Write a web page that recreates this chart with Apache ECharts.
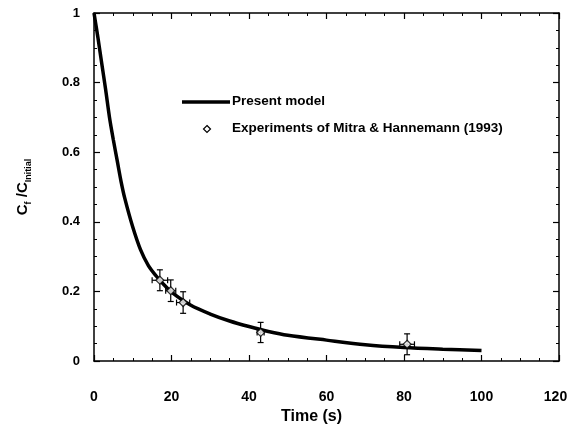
<!DOCTYPE html>
<html>
<head>
<meta charset="utf-8">
<script src="https://cdn.jsdelivr.net/npm/echarts@6/dist/echarts.min.js"></script>
<style>
  html, body { margin: 0; padding: 0; background: #fff; }
  #chart { width: 569px; height: 427px; }
</style>
</head>
<body>
<div id="chart"></div>
<script>
var chartDom = document.getElementById('chart');
var myChart = echarts.init(chartDom);

// model curve
var modelTime = [0, 1, 2, 3, 4, 5, 6, 7, 8, 10, 12, 14, 16, 18, 20, 25, 30, 35, 40, 45, 50, 60, 70, 80, 90, 100];
var modelConc = [1, 0.93, 0.855, 0.78, 0.70, 0.635, 0.575, 0.515, 0.465, 0.385, 0.32, 0.275, 0.245, 0.22, 0.198, 0.16, 0.135, 0.115, 0.099, 0.085, 0.074, 0.06, 0.047, 0.039, 0.034, 0.03];

// experiments: time, value, time error, value error
var expTime = [17, 19.8, 23, 43, 80.8];
var expConc = [0.232, 0.202, 0.168, 0.082, 0.048];
var expTimeErr = [2, 1.3, 1.7, 0.9, 1.9];
var expConcErr = [0.03, 0.031, 0.031, 0.029, 0.03];

var xTicks = [0, 20, 40, 60, 80, 100, 120];
var yTicks = [0, 0.2, 0.4, 0.6, 0.8, 1];

var modelName = 'Present model';
var expName = 'Experiments of Mitra & Hannemann (1993)';

var modelData = modelTime.map(function (t, i) { return [t, modelConc[i]]; });
var expData = expTime.map(function (t, i) { return [t, expConc[i]]; });
var errData = expTime.map(function (t, i) {
  return [t, expConc[i], expTimeErr[i], expConcErr[i]];
});

var font = 'Liberation Sans, Arial, sans-serif';

function renderErr(params, api) {
  var x = api.value(0), y = api.value(1);
  var dx = api.value(2), dy = api.value(3);
  var top = api.coord([x, y + dy]);
  var bot = api.coord([x, y - dy]);
  var lft = api.coord([x - dx, y]);
  var rgt = api.coord([x + dx, y]);
  var cap = 3;
  var style = { stroke: '#000', lineWidth: 1.2 };
  var lines = [
    [top[0], top[1], bot[0], bot[1]],
    [top[0] - cap, top[1], top[0] + cap, top[1]],
    [bot[0] - cap, bot[1], bot[0] + cap, bot[1]],
    [lft[0], lft[1], rgt[0], rgt[1]],
    [lft[0], lft[1] - cap, lft[0], lft[1] + cap],
    [rgt[0], rgt[1] - cap, rgt[0], rgt[1] + cap]
  ];
  return {
    type: 'group',
    children: lines.map(function (l) {
      return { type: 'line', shape: { x1: l[0], y1: l[1], x2: l[2], y2: l[3] }, style: style };
    })
  };
}

var tickStyle = { show: true, inside: true, length: 6, lineStyle: { color: '#000', width: 1.2 } };
var minorStyle = { show: true, splitNumber: 4, length: 3, lineStyle: { color: '#000', width: 1 } };
var axisLineStyle = { show: true, onZero: false, lineStyle: { color: '#000', width: 1.5 } };
var legendText = { fill: '#000', font: 'bold 13.5px ' + font, verticalAlign: 'middle' };

var option = {
  backgroundColor: '#fff',
  animation: false,
  grid: { left: 94, right: 10, top: 13, bottom: 66, outerBoundsMode: 'none' },
  // hand-drawn legend (line sample is long, diamond sits centred under it)
  graphic: [
    { type: 'line', shape: { x1: 182, y1: 102, x2: 230, y2: 102 }, style: { stroke: '#000', lineWidth: 3.5 } },
    { type: 'text', left: 232, top: 94, style: Object.assign({ text: modelName }, legendText) },
    { type: 'polygon', shape: { points: [[207, 125.5], [210.5, 129], [207, 132.5], [203.5, 129]] }, style: { fill: '#fff', stroke: '#000', lineWidth: 1.2 } },
    { type: 'text', left: 232, top: 121, style: Object.assign({ text: expName }, legendText) }
  ],
  xAxis: [
    {
      type: 'value', min: 0, max: 120, interval: 20,
      name: 'Time (s)', nameLocation: 'middle', nameGap: 44,
      nameTextStyle: { fontFamily: font, fontWeight: 'bold', fontSize: 16, color: '#000', padding: [0, 30, 0, 0] },
      axisLine: axisLineStyle,
      axisTick: tickStyle,
      minorTick: minorStyle,
      splitLine: { show: false },
      axisLabel: {
        margin: 29, color: '#000', fontFamily: font, fontWeight: 'bold', fontSize: 14,
        formatter: function (v) {
          if (xTicks.indexOf(v) < 0) return '';
          // last label sits tight against the page edge
          return v === xTicks[xTicks.length - 1] ? '{r|' + v + '}' : String(v);
        },
        rich: { r: { fontFamily: font, fontWeight: 'bold', fontSize: 14, color: '#000', padding: [0, 7, 0, 0] } }
      }
    },
    {
      type: 'value', min: 0, max: 120, interval: 20, position: 'top',
      axisLine: axisLineStyle, axisTick: tickStyle, minorTick: minorStyle,
      splitLine: { show: false }, axisLabel: { show: false }
    }
  ],
  yAxis: [
    {
      type: 'value', min: 0, max: 1, interval: 0.2,
      name: 'C{s|f} /C{s|Initial}', nameLocation: 'middle', nameGap: 61, nameRotate: 90,
      nameTextStyle: {
        fontFamily: font, fontWeight: 'bold', fontSize: 15, color: '#000',
        rich: { s: { fontFamily: font, fontWeight: 'bold', fontSize: 9, color: '#000', padding: [11, 0, 0, 0] } }
      },
      axisLine: axisLineStyle,
      axisTick: tickStyle,
      minorTick: minorStyle,
      splitLine: { show: false },
      axisLabel: {
        margin: 14, color: '#000', fontFamily: font, fontWeight: 'bold', fontSize: 13,
        formatter: function (v) {
          var r = Math.round(v * 10) / 10;
          return yTicks.indexOf(r) >= 0 ? String(r) : '';
        }
      }
    },
    {
      type: 'value', min: 0, max: 1, interval: 0.2, position: 'right',
      axisLine: axisLineStyle, axisTick: tickStyle, minorTick: minorStyle,
      splitLine: { show: false }, axisLabel: { show: false }
    }
  ],
  series: [
    {
      name: modelName,
      type: 'line',
      data: modelData,
      smooth: 0.3,
      showSymbol: false,
      symbol: 'none',
      lineStyle: { color: '#000', width: 3.5 },
      z: 3
    },
    {
      name: 'errors',
      type: 'custom',
      renderItem: renderErr,
      data: errData,
      encode: { x: 0, y: 1 },
      z: 4
    },
    {
      name: expName,
      type: 'scatter',
      symbol: 'diamond',
      symbolSize: 8,
      data: expData,
      itemStyle: { color: '#fff', borderColor: '#000', borderWidth: 1.2 },
      z: 5
    }
  ]
};

option && myChart.setOption(option);
</script>
</body>
</html>
